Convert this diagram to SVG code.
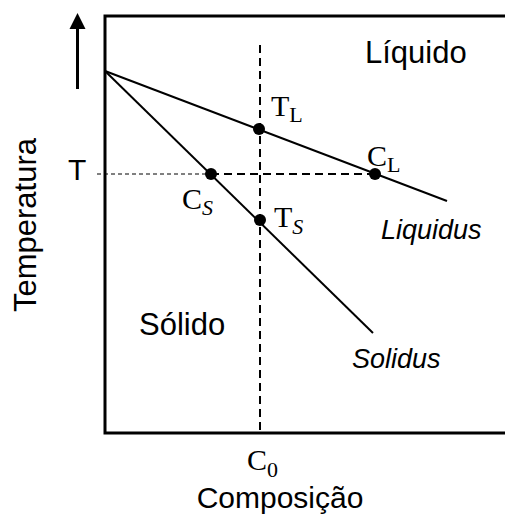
<svg xmlns="http://www.w3.org/2000/svg" width="505" height="517" viewBox="0 0 505 517">
<style>
.ax{stroke:#000;stroke-width:3;fill:none}
.ln{stroke:#000;stroke-width:2;fill:none}
.dash{stroke:#000;stroke-width:2;stroke-dasharray:8 5;fill:none}
.thin{stroke:#000;stroke-width:1;stroke-dasharray:4 3;fill:none}
.dot{fill:#000}
.sans{font-family:"Liberation Sans",Arial,sans-serif;fill:#000}
.it{font-family:"Liberation Sans",Arial,sans-serif;font-style:italic;font-size:27px;fill:#000}
.math{font-family:"Liberation Serif","Times New Roman",serif;font-size:30px;fill:#000}
.sub{font-size:22px}
</style>
<g id="axes">
<path class="ax" d="M505,16 H105 V433 H505"/>
<line x1="77.5" y1="89" x2="77.5" y2="28" stroke="#000" stroke-width="3"/>
<path d="M69.5,29 L77.5,13 L85.5,29 Z" fill="#000"/>
</g>
<g id="connectors">
<line class="dash" x1="260" y1="45" x2="260" y2="433"/>
<line class="thin" x1="97" y1="174" x2="211" y2="174"/>
<line class="dash" x1="211" y1="174" x2="375" y2="174"/>
<line id="liquidus" class="ln" x1="105" y1="71" x2="447" y2="201"/>
<line id="solidus" class="ln" x1="105" y1="71" x2="373" y2="333"/>
</g>
<g id="TL"><circle class="dot" cx="259" cy="129" r="6"/><text class="math" x="271" y="116">T<tspan class="sub" dy="6">L</tspan></text></g>
<g id="CL"><circle class="dot" cx="375" cy="174" r="6"/><text class="math" x="367" y="166">C<tspan class="sub" dy="6">L</tspan></text></g>
<g id="CS"><circle class="dot" cx="211" cy="174" r="6"/><text class="math" x="182" y="209">C<tspan class="sub" font-style="italic" dy="6">S</tspan></text></g>
<g id="TS"><circle class="dot" cx="260" cy="220" r="6"/><text class="math" x="274" y="227">T<tspan class="sub" font-style="italic" dy="7">S</tspan></text></g>
<g id="C0"><text class="math" x="247" y="470">C<tspan class="sub" dy="7">0</tspan></text></g>
<g id="labels">
<text class="sans" font-size="31" x="365" y="63">Líquido</text>
<text class="sans" font-size="31" x="139" y="335">Sólido</text>
<text class="it" x="381" y="239">Liquidus</text>
<text class="it" x="352" y="368">Solidus</text>
<text class="sans" font-size="30" x="68" y="180">T</text>
<text class="sans" font-size="31" text-anchor="middle" transform="translate(36,225) rotate(-90)">Temperatura</text>
<text class="sans" font-size="30" text-anchor="middle" x="280" y="508">Composição</text>
</g>
</svg>
